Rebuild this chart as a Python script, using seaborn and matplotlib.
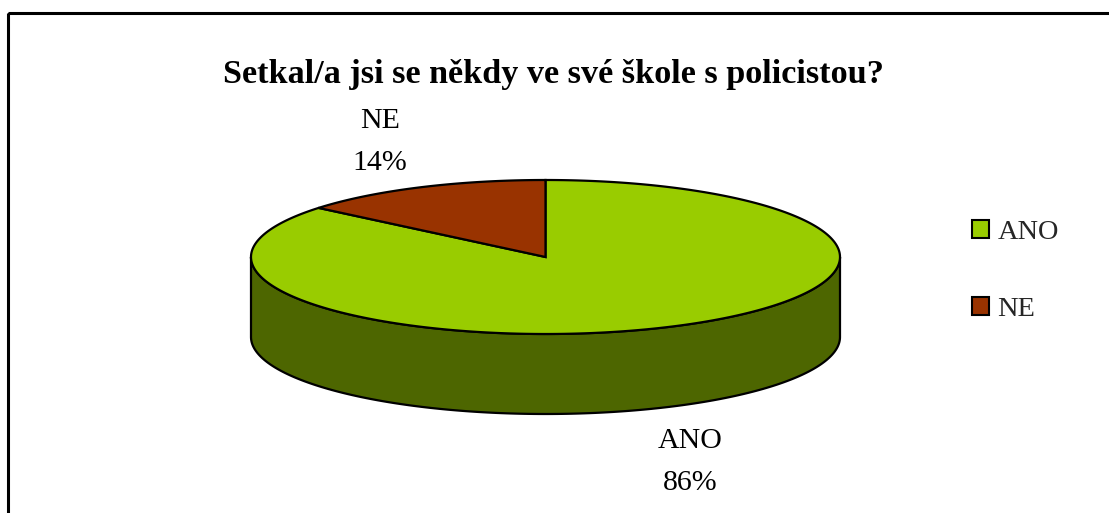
import numpy as np
import matplotlib
matplotlib.use("Agg")
import matplotlib.pyplot as plt
from matplotlib.patches import Polygon, Rectangle, Patch
import seaborn as sns

# data
categories = ["ANO", "NE"]
shares = [86, 14]
top_colors = ["#99CC00", "#993300"]
side_colors = ["#4D6600", "#4D1A00"]
title = "Setkal/a jsi se někdy ve své škole s policistou?"

sns.set_theme(style="white")
plt.rcParams["font.family"] = ["Liberation Serif", "DejaVu Serif"]

fig = plt.figure(figsize=(11.09, 5.13), dpi=100)
ax = fig.add_axes([0, 0, 1, 1])
ax.set_xlim(0, 1109)
ax.set_ylim(513, 0)
ax.axis("off")

# ellipse geometry (pixels)
cx, cy, rx, ry, depth = 545.5, 257, 294.5, 77, 80


def pt(a, dy=0):
    a = np.radians(a)
    return cx + rx * np.cos(a), cy - ry * np.sin(a) + dy


# angles: start at 12 o'clock, go clockwise
fr = np.array(shares) / sum(shares)
ends = 90 - np.cumsum(fr) * 360
starts = np.r_[90, ends[:-1]]

# side walls (front half only: 180..360 deg)
for s, e, col in zip(starts, ends, side_colors):
    lo, hi = e, s
    for shift in (0, 360, -360):
        a0 = max(lo + shift, 180)
        a1 = min(hi + shift, 360)
        if a1 > a0:
            ang = np.linspace(a0, a1, 200)
            upper = [pt(a) for a in ang]
            lower = [pt(a, depth) for a in ang[::-1]]
            ax.add_patch(Polygon(upper + lower, closed=True, facecolor=col,
                                 edgecolor="black", lw=1.6, zorder=2))

# top faces
for s, e, col in zip(starts, ends, top_colors):
    ang = np.linspace(s, e, 400)
    poly = [(cx, cy)] + [pt(a) for a in ang]
    ax.add_patch(Polygon(poly, closed=True, facecolor=col,
                         edgecolor="black", lw=1.6, zorder=3, joinstyle="miter"))

# data labels
label_pos = {"ANO": (690, 462), "NE": (380, 142)}
for cat, v in zip(categories, shares):
    x, y = label_pos[cat]
    ax.text(x, y, f"{cat}\n{v}%", ha="center", va="center", fontsize=21.5,
            linespacing=1.75, color="black")

ax.text(553, 75, title, ha="center", va="center", fontsize=24.6,
        fontweight="bold", color="black")

# legend
handles = [Patch(facecolor=c, edgecolor="black", lw=1.5) for c in top_colors]
ax.legend(handles, categories, loc="center left", bbox_to_anchor=(972, 271),
          bbox_transform=ax.transData, frameon=False, fontsize=20.4,
          handlelength=0.6, handleheight=0.6, handletextpad=0.3,
          labelspacing=1.85, borderpad=0, borderaxespad=0)

# chart border
ax.add_patch(Rectangle((8, 13), 1200, 600, fill=False, edgecolor="black",
                       lw=2.2, zorder=5, clip_on=True))

fig.savefig("out.png", dpi=100, facecolor="white")
